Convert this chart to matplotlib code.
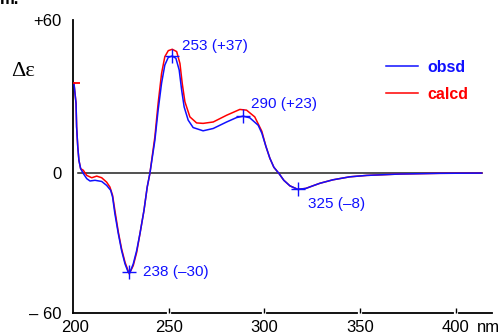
import matplotlib
matplotlib.use("Agg")
import matplotlib.pyplot as plt

plt.rcParams['font.family'] = ['Liberation Sans', 'DejaVu Sans']

wl_obsd = [200.5, 201.6, 201.9, 202.5, 203.1, 204.0, 205.4, 207.2, 208.9, 211.5, 215.0,
           217.6, 219.7, 220.7, 221.9, 223.7, 225.4, 227.2, 228.9, 229.8, 231.5, 233.3,
           235.0, 237.1, 238.8, 240.2, 242.8, 244.5, 246.3, 248.0, 249.8, 251.9, 253.8,
           255.5, 256.8, 258.1, 260.2, 262.8, 268.0, 273.3, 280.3, 285.5, 288.9, 292.4,
           296.8, 298.7, 300.8, 302.9, 305.0, 307.6, 310.2, 313.4, 317.5, 321.7, 325.3,
           329.0, 335.8, 344.7, 353.5, 370.8, 391.6, 413.6]
de_obsd = [38.8, 30.1, 20.0, 11.4, 5.6, 2.0, -0.1, -2.3, -3.3, -3.0, -3.5,
           -5.2, -7.3, -10.2, -17.4, -26.0, -33.2, -39.0, -42.6, -42.6, -39.0, -33.2,
           -26.0, -16.0, -5.9, 0.0, 14.2, 27.2, 38.8, 46.6, 49.9, 50.5, 49.5,
           44.5, 35.8, 28.6, 22.9, 19.7, 18.3, 19.3, 22.1, 24.0, 24.6, 23.9,
           20.7, 17.3, 11.7, 6.5, 2.6, 0.0, -3.0, -5.4, -6.9, -6.5, -5.4,
           -4.3, -2.8, -1.5, -0.9, -0.3, 0.0, 0.1]

# calculated CD curve
wl_calcd = [200.5, 201.6, 201.9, 202.5, 203.1, 204.0, 205.4, 207.2, 209.8, 212.4, 215.0,
            217.6, 219.3, 220.7, 221.9, 223.7, 225.4, 227.2, 229.4, 231.5, 233.3, 235.0,
            237.1, 238.8, 240.2, 242.8, 244.5, 246.3, 248.0, 249.8, 251.9, 254.2, 255.9,
            257.1, 258.5, 261.1, 264.6, 268.0, 273.3, 280.3, 287.2, 290.7, 295.0, 298.7,
            300.8, 302.9, 305.0, 307.6, 310.2, 313.4, 317.5, 321.7, 325.3, 329.0, 335.8,
            344.7, 353.5, 370.8, 391.6, 413.6]
de_calcd = [38.8, 30.1, 20.0, 11.4, 5.6, 2.0, 1.3, -0.9, -1.9, -1.2, -1.9,
            -3.8, -5.9, -9.5, -16.0, -25.3, -32.5, -38.3, -43.3, -39.7, -34.0, -26.0,
            -16.0, -5.9, 0.0, 15.7, 30.1, 43.0, 50.2, 52.8, 53.4, 52.4, 47.3,
            38.7, 30.8, 24.3, 21.7, 21.5, 22.1, 25.0, 27.5, 27.2, 24.3, 18.1,
            11.7, 6.5, 2.6, 0.0, -3.0, -5.4, -6.9, -6.5, -5.4, -4.3, -2.8,
            -1.5, -0.9, -0.3, 0.0, 0.1]

# marked extrema of the observed curve and their labels
peak_wl = [251.9, 288.9, 229.4, 317.5]
peak_de = [50.5, 24.6, -42.6, -6.9]
peak_labels = ['253 (+37)', '290 (+23)', '238 (\u201330)', '325 (\u20138)']
label_offsets = [(10, 10), (8, 12), (14, 0), (10, -15)]

xtick_vals = [200, 250, 300, 350, 400]
xtick_labels = ['200', '250', '300', '350', '400']

blue = '#1010ff'
red = '#ff0000'

fig = plt.figure(figsize=(5.03, 3.36), dpi=100)
ax = fig.add_axes([0.1451, 0.0693, 0.8330, 0.8712])
ax.set_xlim(200, 419)
ax.set_ylim(-60, 66)

ax.plot([202.6, 413.6], [0, 0], color='#222222', lw=1.1, zorder=1)
ax.plot(wl_obsd, de_obsd, color=blue, lw=1.1, label='obsd', zorder=3)
ax.plot(wl_calcd, de_calcd, color=red, lw=1.1, label='calcd', zorder=2)
ax.plot(wl_calcd[0], de_calcd[0], marker='_', ms=9, mew=1.3, color=red, zorder=4)
ax.plot(peak_wl, peak_de, ls='none', marker='+', ms=10, mew=1.0, color=blue, zorder=4)

for x, y, s, off in zip(peak_wl, peak_de, peak_labels, label_offsets):
    ax.annotate(s, (x, y), xytext=off, textcoords='offset pixels',
                color=blue, fontsize=11, ha='left', va='center')

# axes styling
for side in ['top', 'right', 'bottom']:
    ax.spines[side].set_visible(False)
ax.spines['left'].set_linewidth(1.3)

# broken bottom axis with small gaps at each tick
trans = ax.get_xaxis_transform()
edges = [200] + xtick_vals[1:] + [419]
for i in range(len(edges) - 1):
    a = edges[i] + (1.6 if i > 0 else 0)
    b = edges[i + 1] - (1.6 if i < len(edges) - 2 else 0)
    ax.plot([a, b], [0, 0], color='black', lw=1.3, transform=trans, clip_on=False)

ax.set_xticks(xtick_vals[1:])
ax.set_xticklabels(xtick_labels[1:])
ax.tick_params(axis='x', direction='in', length=3.5, width=1.0, pad=5, labelsize=12)
ax.annotate('200', (200, 0), xycoords=trans, xytext=(2, -7), textcoords='offset pixels',
            ha='center', va='top', fontsize=12)
ax.annotate('nm', (400, 0), xycoords=trans, xytext=(21, -7), textcoords='offset pixels',
            ha='left', va='top', fontsize=12)

ax.set_yticks([-60, 0, 66])
ax.set_yticklabels(['\u2013 60', '0', '+60'])
ax.tick_params(axis='y', length=0, pad=8, labelsize=12)

fig.text(0.022, 1 - 72 / 336, '\u0394\u03b5', family='Liberation Serif', fontsize=16,
         ha='left', va='center')
fig.text(0.0, 1.0, 'm.', fontsize=12, fontweight='bold', ha='left', va='center')

leg = ax.legend(loc='upper left', bbox_to_anchor=(386 / 503, 1 - 60 / 336),
                bbox_transform=fig.transFigure, frameon=False, borderpad=0,
                borderaxespad=0, handlelength=2.0, handletextpad=0.6, labelspacing=0.75,
                prop={'weight': 'bold', 'size': 11.5}, labelcolor='linecolor')

fig.savefig('out.png', dpi=100)
